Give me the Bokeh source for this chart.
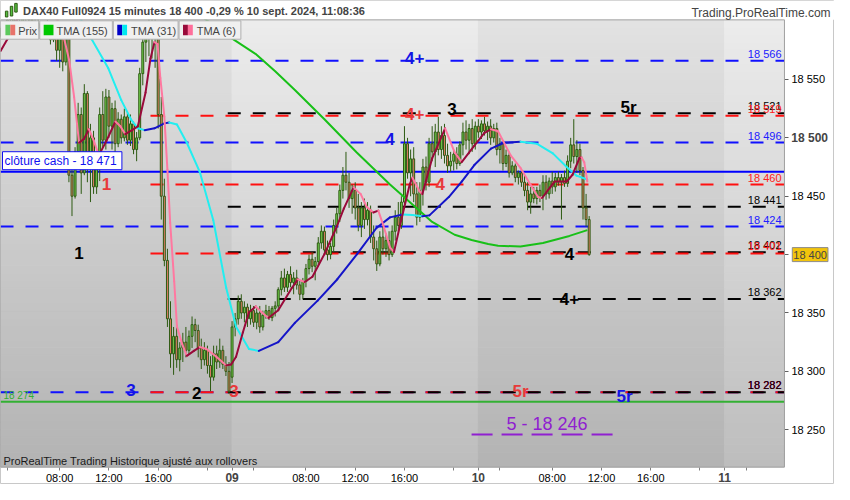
import numpy as np
from bokeh.plotting import figure
from bokeh.models import Range1d, FixedTicker, Label, BoxAnnotation, LinearAxis
from bokeh.core.properties import value
from bokeh.embed import file_html
from bokeh.resources import INLINE

# ---------------- data ----------------
# DAX40 Full0924, 15-minute bars, bar 0 = Fri 6 Sept 03:15 ... bar 191 = Tue 10 Sept 11:00
opens = [18587, 18594, 18597, 18601, 18603, 18600, 18596, 18599, 18604, 18606,
         18601, 18595, 18598, 18594, 18591, 18596, 18590, 18584, 18592, 18575,
         18586, 18565, 18590, 18468, 18450, 18488, 18520, 18470, 18538, 18475,
         18500, 18458, 18478, 18520, 18498, 18535, 18510, 18525, 18495, 18516,
         18500, 18518, 18498, 18512, 18490, 18500, 18555, 18582, 18590, 18585,
         18596, 18590, 18520, 18450, 18395, 18345, 18315, 18330, 18310, 18320,
         18325, 18318, 18330, 18340, 18335, 18320, 18310, 18318, 18305, 18295,
         18315, 18308, 18318, 18306, 18300, 18295, 18338, 18345, 18360, 18350,
         18355, 18345, 18352, 18342, 18350, 18338, 18348, 18352, 18346, 18354,
         18356, 18370, 18380, 18372, 18383, 18376, 18380, 18374, 18366, 18377,
         18388, 18396, 18390, 18394, 18410, 18420, 18404, 18400, 18407, 18425,
         18435, 18455, 18468, 18462, 18448, 18455, 18440, 18425, 18440, 18430,
         18438, 18415, 18405, 18392, 18415, 18405, 18412, 18400, 18420, 18432,
         18425, 18445, 18495, 18470, 18482, 18452, 18432, 18455, 18475, 18462,
         18495, 18488, 18505, 18490, 18502, 18485, 18476, 18480, 18486, 18478,
         18494, 18505, 18498, 18508, 18495, 18510, 18505, 18512, 18506, 18510,
         18500, 18508, 18490, 18495, 18478, 18485, 18470, 18476, 18466, 18470,
         18462, 18455, 18445, 18452, 18448, 18455, 18450, 18462, 18452, 18463,
         18458, 18466, 18462, 18466, 18461, 18480, 18494, 18484, 18490, 18472,
         18440, 18430]
highs = [18596, 18600, 18604, 18608, 18610, 18606, 18603, 18607, 18612, 18611,
         18605, 18602, 18604, 18600, 18598, 18601, 18596, 18595, 18597, 18590,
         18596, 18598, 18595, 18480, 18492, 18530, 18526, 18546, 18540, 18512,
         18506, 18482, 18526, 18540, 18542, 18541, 18530, 18532, 18522, 18520,
         18525, 18522, 18520, 18514, 18505, 18560, 18590, 18600, 18605, 18602,
         18605, 18598, 18535, 18465, 18405, 18360, 18338, 18340, 18325, 18333,
         18338, 18335, 18347, 18345, 18340, 18328, 18325, 18322, 18313, 18322,
         18322, 18328, 18322, 18313, 18308, 18343, 18350, 18365, 18366, 18360,
         18358, 18357, 18356, 18355, 18356, 18352, 18357, 18356, 18356, 18360,
         18372, 18386, 18388, 18386, 18390, 18385, 18387, 18378, 18380, 18392,
         18400, 18402, 18398, 18415, 18425, 18424, 18412, 18410, 18430, 18440,
         18460, 18475, 18488, 18470, 18460, 18462, 18452, 18445, 18448, 18445,
         18442, 18425, 18412, 18420, 18425, 18418, 18420, 18425, 18438, 18445,
         18450, 18510, 18500, 18490, 18492, 18462, 18462, 18482, 18484, 18500,
         18510, 18512, 18518, 18510, 18512, 18495, 18488, 18490, 18492, 18497,
         18513, 18515, 18512, 18516, 18514, 18516, 18515, 18518, 18514, 18516,
         18512, 18513, 18500, 18498, 18490, 18488, 18480, 18478, 18472, 18473,
         18468, 18462, 18458, 18458, 18458, 18460, 18468, 18468, 18466, 18471,
         18470, 18471, 18469, 18472, 18485, 18500, 18516, 18498, 18495, 18475,
         18452, 18433]
lows = [18586, 18590, 18593, 18596, 18598, 18594, 18591, 18595, 18600, 18598,
        18593, 18590, 18592, 18588, 18587, 18588, 18580, 18582, 18566, 18560,
        18557, 18562, 18462, 18433, 18448, 18482, 18452, 18468, 18462, 18445,
        18452, 18452, 18463, 18492, 18490, 18500, 18490, 18487, 18492, 18495,
        18497, 18494, 18493, 18486, 18480, 18498, 18545, 18565, 18570, 18568,
        18560, 18508, 18430, 18390, 18338, 18303, 18297, 18303, 18300, 18308,
        18312, 18314, 18320, 18325, 18312, 18302, 18305, 18298, 18283, 18292,
        18302, 18303, 18302, 18296, 18281, 18290, 18330, 18340, 18345, 18342,
        18338, 18340, 18338, 18336, 18333, 18335, 18345, 18344, 18343, 18347,
        18352, 18365, 18368, 18368, 18372, 18366, 18370, 18361, 18362, 18372,
        18383, 18385, 18378, 18390, 18405, 18400, 18395, 18396, 18402, 18418,
        18428, 18448, 18455, 18440, 18435, 18430, 18420, 18415, 18422, 18425,
        18410, 18395, 18386, 18390, 18400, 18398, 18395, 18398, 18412, 18420,
        18422, 18440, 18465, 18450, 18445, 18425, 18428, 18442, 18455, 18458,
        18480, 18475, 18485, 18482, 18478, 18470, 18471, 18472, 18473, 18476,
        18485, 18490, 18486, 18488, 18490, 18500, 18499, 18502, 18498, 18494,
        18496, 18485, 18478, 18472, 18475, 18466, 18468, 18462, 18460, 18458,
        18450, 18438, 18435, 18444, 18443, 18445, 18438, 18447, 18448, 18452,
        18454, 18459, 18430, 18458, 18458, 18474, 18478, 18470, 18468, 18430,
        18424, 18399]
closes = [18594, 18597, 18601, 18603, 18600, 18596, 18599, 18604, 18606, 18601,
          18595, 18598, 18594, 18591, 18596, 18590, 18584, 18592, 18575, 18586,
          18565, 18590, 18468, 18450, 18488, 18520, 18470, 18538, 18475, 18500,
          18458, 18478, 18520, 18498, 18535, 18510, 18525, 18495, 18516, 18500,
          18518, 18498, 18512, 18490, 18500, 18555, 18582, 18590, 18585, 18596,
          18590, 18520, 18450, 18395, 18345, 18315, 18330, 18310, 18320, 18325,
          18318, 18330, 18340, 18335, 18320, 18310, 18318, 18305, 18295, 18315,
          18308, 18318, 18306, 18300, 18283, 18338, 18345, 18360, 18350, 18355,
          18345, 18352, 18342, 18350, 18338, 18348, 18352, 18346, 18354, 18356,
          18370, 18380, 18372, 18383, 18376, 18380, 18374, 18366, 18377, 18388,
          18396, 18390, 18394, 18410, 18420, 18404, 18400, 18407, 18425, 18435,
          18455, 18468, 18462, 18448, 18455, 18440, 18425, 18440, 18430, 18438,
          18415, 18405, 18392, 18415, 18405, 18412, 18400, 18420, 18432, 18425,
          18445, 18495, 18470, 18482, 18452, 18432, 18455, 18475, 18462, 18495,
          18488, 18505, 18490, 18502, 18485, 18476, 18480, 18486, 18478, 18494,
          18505, 18498, 18508, 18495, 18510, 18505, 18512, 18506, 18510, 18500,
          18508, 18490, 18495, 18478, 18485, 18470, 18476, 18466, 18470, 18462,
          18455, 18445, 18452, 18448, 18455, 18450, 18462, 18452, 18463, 18458,
          18466, 18462, 18466, 18461, 18480, 18494, 18484, 18490, 18472, 18440,
          18430, 18400]

# moving averages (bar index, price)
tma155_x = [65.1, 75.3, 82.6, 89.0, 95.4, 105.0, 115.5, 126.3, 133.6, 140.0,
            147.3, 152.8, 158.2, 161.4, 168.7, 176.0, 184.6, 190.4]
tma155_y = [18604, 18584.5, 18572, 18557, 18541, 18516, 18487.5, 18460, 18443, 18428,
            18417, 18412.5, 18409, 18407.5, 18407, 18410, 18416, 18421]

tma31_x = [24.6, 29.4, 34.8, 39.0, 42.2, 44.4, 46.6, 49.8, 53.0, 54.6,
           57.1, 60.3, 64.5, 68.9, 73.1, 76.3, 80.5, 83.7, 90.0, 95.4,
           102.8, 109.2, 115.6, 121.9, 126.3, 130.4, 133.6, 136.8, 139.1, 145.4,
           149.6, 153.7, 159.1, 163.3, 168.7, 174.1, 179.2, 183.7, 186.9, 190.4]
tma31_y = [18607.7, 18584.5, 18559.6, 18532.3, 18515.7, 18508.2, 18506.6, 18508.2, 18512.4, 18513.2,
           18511.5, 18495.8, 18470.9, 18429.4, 18371.4, 18338.2, 18319.2, 18317.5, 18325.0, 18341.5,
           18360.6, 18378.9, 18400.4, 18422.8, 18431.9, 18434.4, 18434.0, 18432.8, 18433.6, 18449.3,
           18462.6, 18476.7, 18490.8, 18495.8, 18496.6, 18494.9, 18486.7, 18475.0, 18467.6, 18464.3]

tma6_x = [-0.2, 2.0, 3.6, 7.7, 14.1, 18.3, 20.5, 22.1, 23.7, 25.3,
          26.9, 28.5, 30.1, 31.7, 34.2, 37.1, 38.7, 40.3, 42.5, 44.4,
          46.9, 48.5, 49.8, 50.8, 51.7, 53.0, 54.0, 54.9, 56.2, 57.1,
          58.8, 60.3, 62.6, 64.5, 66.7, 69.9, 73.1, 74.7, 76.3, 78.5,
          80.5, 82.7, 84.6, 86.8, 90.0, 94.4, 96.4, 98.6, 101.1, 105.0,
          109.1, 111.3, 114.5, 116.8, 118.7, 120.9, 122.5, 124.1, 126.3, 127.6,
          129.5, 132.7, 133.6, 135.9, 136.8, 140.0, 144.2, 147.3, 149.6, 153.7,
          156.9, 159.1, 161.4, 165.5, 168.7, 171.9, 174.4, 175.7, 178.3, 179.8,
          183.7, 185.6, 187.8, 188.5, 189.4, 190.4]
tma6_y = [18574.5, 18584.5, 18596.9, 18607.7, 18609.4, 18601.1, 18584.5, 18566.3, 18534.8, 18495.8,
          18499.1, 18507.4, 18497.4, 18485.0, 18497.4, 18514.0, 18509.9, 18503.2, 18506.6, 18509.9,
          18538.9, 18568.0, 18582.0, 18580.4, 18551.3, 18518.2, 18472.6, 18427.0, 18377.2, 18338.2,
          18323.3, 18313.3, 18317.5, 18320.8, 18319.2, 18312.5, 18305.1, 18305.9, 18312.5, 18333.3,
          18350.7, 18355.6, 18350.7, 18345.7, 18352.3, 18371.4, 18378.8, 18376.5, 18381.0, 18400.4,
          18424.5, 18439.4, 18457.6, 18451.8, 18441.0, 18436.1, 18437.7, 18425.3, 18406.2, 18402.1,
          18424.5, 18460.1, 18465.9, 18454.3, 18451.8, 18482.5, 18508.2, 18487.5, 18479.2, 18493.3,
          18504.1, 18507.4, 18505.7, 18485.0, 18474.2, 18460.1, 18449.3, 18448.5, 18457.6, 18462.6,
          18462.6, 18468.4, 18482.5, 18483.3, 18479.2, 18462.6]

# horizontal levels
level_values = [18566, 18521, 18519, 18496, 18471, 18460, 18441, 18424,
                18402, 18401, 18362, 18282, 18282, 18282, 18274, 18246]
level_names = ["blue", "black", "red", "blue", "cash", "red", "black", "blue",
               "black", "red", "black", "blue", "red", "black", "green", "purple"]
cash_close = 18471
last_price = 18400
target_text = "5 - 18 246"

# level markers
marker_text = ["4+", "4+", "3", "5r", "4", "1", "4", "1", "4", "4+", "3", "2", "3", "5r", "5r"]
marker_kind = ["blue", "red", "black", "black", "blue", "red", "red", "black", "black",
               "black", "blue", "black", "red", "red", "blue"]
marker_bar = [134.3, 134.3, 146.4, 203.8, 126.3, 34.2, 142.6, 25.3, 184.6, 184.6,
              42.2, 63.5, 75.6, 168.7, 202.5]
marker_price = [18568.7, 18520.6, 18524.8, 18525.6, 18499.1, 18460.1, 18460.1, 18401.2,
                18400.4, 18362.3, 18284.3, 18281.8, 18283.5, 18282.7, 18278.5]

# axes
price_ticks = [18250, 18300, 18350, 18400, 18450, 18500, 18550]
time_ticks = [19, 35, 51, 99, 115, 131, 179, 195, 211]
time_labels = ["08:00", "12:00", "16:00", "08:00", "12:00", "16:00", "08:00", "12:00", "16:00"]
day_ticks = [75, 155, 235]
day_labels = ["09", "10", "11"]
minor_ticks = [2, 67, 82, 147, 162, 227, 242]
day_bounds = [-6, 75, 155, 235, 320]

# ---------------- layout helpers (reference pixels -> data / screen) ----------------
FONT = "Liberation Sans"
W, H = 834, 484
SX, SY = W / 850.0, H / 500.0

def K(px):          # reference x pixel -> bar index
    return (px - 0.7) / 3.1375

def P(py):          # reference y pixel -> price
    return 18400 + (262.5 - py) / 1.206

def sx(px):         # reference x pixel -> screen x
    return px * SX

def sy(py):         # reference y pixel -> screen y (from bottom)
    return (500 - py) * SY

def fmt(v):
    return "{:,}".format(int(v)).replace(",", " ")

CH_L, CH_R = K(0), K(799)
CH_B, CH_T = P(482), P(20)

LV = {
    "blue":   dict(color="#1010ff", dash="13 12", start=CH_L, end=CH_R, lab="#2020ff"),
    "black":  dict(color="#000000", dash="13 12", start=73.6, end=CH_R, lab="#000000"),
    "red":    dict(color="#ff1010", dash="13 12", start=48.5, end=CH_R, lab="#ff2020"),
    "cash":   dict(color="#0000ff", dash="solid", start=CH_L, end=CH_R, lab=None),
    "green":  dict(color="#33b033", dash="solid", start=CH_L, end=CH_R, lab="#30b030"),
    "purple": dict(color="#9020d0", dash="21 9", start=152.8, end=201.2, lab="#9020d0"),
}
MK = {"blue": "#1414e6", "red": "#e83a3a", "black": "#000000"}

p = figure(width=W, height=H, title=None,
           x_range=Range1d(K(0), K(850)), y_range=Range1d(P(500), P(0)),
           output_backend="svg", toolbar_location=None,
           x_axis_location=None, y_axis_location=None,
           min_border=0, background_fill_color="white", border_fill_color="white",
           outline_line_color="#c8c8c8")
p.grid.visible = False

# chart background: vertical gradient, alternating by day
nstrip = 60
edges = np.linspace(CH_B, CH_T, nstrip + 1)
ql, qr, qb, qt, qc = [], [], [], [], []
for d in range(len(day_bounds) - 1):
    light = d % 2 == 1
    top_g, bot_g = (236, 189) if light else (226, 179)
    left = max(day_bounds[d], CH_L)
    right = min(day_bounds[d + 1], CH_R)
    if right <= left:
        continue
    for i in range(nstrip):
        t = (0.5 * (edges[i] + edges[i + 1]) - CH_B) / (CH_T - CH_B)
        g = int(round(bot_g + t * (top_g - bot_g)))
        ql.append(left); qr.append(right)
        qb.append(edges[i]); qt.append(edges[i + 1])
        qc.append("#%02x%02x%02x" % (g, g, g))
p.quad(left=ql, right=qr, bottom=qb, top=qt, fill_color=qc, line_color=qc, line_width=1)

# levels
for v, name in zip(level_values, level_names):
    st = LV[name]
    p.segment(x0=[st["start"]], y0=[v], x1=[st["end"]], y1=[v], line_color=st["color"],
              line_width=2, line_dash=st["dash"])

# candles
idx = np.arange(len(opens))
o = np.array(opens); c = np.array(closes); hi = np.array(highs); lo = np.array(lows)
inc = c >= o
dec = ~inc
OUT = "#2d5a12"
p.segment(x0=idx, y0=hi, x1=idx, y1=lo, line_color=OUT, line_width=1)
p.vbar(x=idx[inc], width=0.62, top=c[inc], bottom=o[inc], fill_color="#74d44e",
       line_color=OUT, line_width=1)
p.vbar(x=idx[dec], width=0.62, top=o[dec], bottom=c[dec], fill_color="#ea7e69",
       line_color=OUT, line_width=1)

# moving averages, coloured by direction
def ma(xs, ys, up, down):
    x0, x1 = xs[:-1], xs[1:]
    y0, y1 = ys[:-1], ys[1:]
    cols = [up if b >= a else down for a, b in zip(y0, y1)]
    p.segment(x0=x0, y0=y0, x1=x1, y1=y1, line_color=cols, line_width=2, line_cap="round")

p.line(tma155_x, tma155_y, line_color="#18c018", line_width=2)
ma(tma31_x, tma31_y, "#1414c8", "#22eef0")
ma(tma6_x, tma6_y, "#990a3a", "#ff78a0")

# level labels on the right
rx, ry, rt, rc = [], [], [], []
for v, name in zip(level_values, level_names):
    st = LV[name]
    if name in ("cash", "green", "purple"):
        continue
    rx.append(K(796)); ry.append(v); rt.append(fmt(v)); rc.append(st["lab"])
p.text(x=rx, y=ry, text=rt, text_color=rc, text_font=value(FONT), text_font_size="11px",
       text_align="right", text_baseline="bottom", y_offset=-1)
p.text(x=[K(3)], y=[18274], text=[fmt(18274)], text_color=[LV["green"]["lab"]],
       text_font=value(FONT), text_font_size="10px", text_align="left",
       text_baseline="bottom", y_offset=-1)

# target
p.text(x=[K(557)], y=[P(437)], text=[target_text], text_color="#9020d0",
       text_font=value(FONT), text_font_size="18px", text_align="center",
       text_baseline="middle")

# markers
p.text(x=marker_bar, y=marker_price, text=marker_text, text_color=[MK[k] for k in marker_kind],
       text_font=value(FONT), text_font_size="17px", text_font_style="bold",
       text_align="center", text_baseline="middle")

# header band (masks anything above the chart area)
p.add_layout(BoxAnnotation(left=K(0), right=K(850), bottom=CH_T, top=P(0),
                           fill_color="white", fill_alpha=1, line_color=None))
# chart border
p.add_layout(BoxAnnotation(left=CH_L, right=CH_R, bottom=CH_B, top=CH_T,
                           fill_alpha=0, line_color="#a0a0a0", line_alpha=1, line_width=1))

# axes drawn at the chart edges
ya = LinearAxis(fixed_location=CH_R)
ya.ticker = FixedTicker(ticks=price_ticks)
ya.major_label_overrides = {t: ("" if t in (18500, last_price) else fmt(t)) for t in price_ticks}
ya.axis_line_color = None
ya.major_tick_in = 0
ya.major_tick_out = 4
ya.major_tick_line_color = "#606060"
ya.minor_tick_line_color = None
ya.major_label_standoff = 3
ya.major_label_text_font = FONT
ya.major_label_text_font_size = "11px"
ya.major_label_text_color = "#000000"
p.add_layout(ya, "right")

xa = LinearAxis(fixed_location=CH_B)
xa.ticker = FixedTicker(ticks=time_ticks + day_ticks, minor_ticks=minor_ticks)
ov = {t: l for t, l in zip(time_ticks, time_labels)}
ov.update({t: "" for t in day_ticks})
xa.major_label_overrides = ov
xa.axis_line_color = None
xa.major_tick_in = 0
xa.major_tick_out = 3
xa.minor_tick_in = 0
xa.minor_tick_out = 3
xa.major_tick_line_color = "#808080"
xa.minor_tick_line_color = "#808080"
xa.major_label_standoff = 2
xa.major_label_text_font = FONT
xa.major_label_text_font_size = "11px"
xa.major_label_text_color = "#000000"
p.add_layout(xa, "below")

for t, l in zip(day_ticks, day_labels):
    p.add_layout(Label(x=t, y=sy(493), x_units="data", y_units="screen", text=l,
                       text_font=FONT, text_font_size="12px", text_font_style="bold",
                       text_align="center", text_baseline="middle"))

p.add_layout(Label(x=sx(806), y=18500, x_units="screen", y_units="data", text=fmt(18500),
                   text_font=FONT, text_font_size="12px", text_font_style="bold",
                   text_baseline="middle"))
p.add_layout(Label(x=sx(807), y=last_price, x_units="screen", y_units="data", text=fmt(last_price),
                   text_font=FONT, text_font_size="11px", text_baseline="middle",
                   background_fill_color="#f2c40c", border_line_color="#8c8c8c",
                   padding=1))

# closing cash box
p.add_layout(Label(x=2, y=cash_close, x_units="screen", y_units="data",
                   text="clôture cash -  " + fmt(cash_close), text_color="#1010f0",
                   text_font=FONT, text_font_size="12px", text_baseline="bottom",
                   y_offset=2, background_fill_color="white", border_line_color="#1010f0",
                   padding=2))

# header
p.add_layout(Label(x=sx(23), y=sy(11), x_units="screen", y_units="screen",
                   text="DAX40 Full0924 15 minutes 18 400 -0,29 % 10 sept. 2024, 11:08:36",
                   text_font=FONT, text_font_size="11px", text_font_style="bold",
                   text_baseline="middle"))
p.add_layout(Label(x=sx(846), y=sy(13), x_units="screen", y_units="screen",
                   text="Trading.ProRealTime.com", text_font=FONT, text_font_size="12px",
                   text_align="right", text_baseline="middle"))
for l, r, b, t in [(5, 7.5, 17, 11), (10, 12.5, 16, 6), (14.5, 17, 12, 3)]:
    p.add_layout(BoxAnnotation(left=sx(l), right=sx(r), bottom=sy(b), top=sy(t),
                               left_units="screen", right_units="screen",
                               bottom_units="screen", top_units="screen",
                               fill_color="#55c040", fill_alpha=1,
                               line_color="#2d5a12", line_alpha=1, line_width=1))

# legend boxes
boxes = [(0, 39), (40, 114), (115, 181), (182, 245)]
for l, r in boxes:
    p.add_layout(BoxAnnotation(left=sx(l), right=sx(r), bottom=sy(40), top=sy(21),
                               left_units="screen", right_units="screen",
                               bottom_units="screen", top_units="screen",
                               fill_color="#f0f0f0", fill_alpha=1,
                               line_color="#b0b0b0", line_alpha=1, line_width=1))
swatches = [(5, 10, "#5cc95c"), (10, 15, "#e8736a"), (44, 54, "#00c800"),
            (119, 124, "#0000c8"), (124, 129, "#00e8f0"),
            (186, 191, "#990a3a"), (191, 196, "#ff6e9a")]
for l, r, col in swatches:
    p.add_layout(BoxAnnotation(left=sx(l), right=sx(r), bottom=sy(36), top=sy(25),
                               left_units="screen", right_units="screen",
                               bottom_units="screen", top_units="screen",
                               fill_color=col, fill_alpha=1, line_color=None))
for xpos, txt in [(18, "Prix"), (57, "TMA (155)"), (133, "TMA (31)"), (200, "TMA (6)")]:
    p.add_layout(Label(x=sx(xpos), y=sy(31), x_units="screen", y_units="screen", text=txt,
                       text_font=FONT, text_font_size="11px", text_baseline="middle"))

# footer note
p.add_layout(Label(x=sx(3), y=sy(476), x_units="screen", y_units="screen",
                   text="ProRealTime Trading  Historique ajusté aux rollovers",
                   text_font=FONT, text_font_size="11px", text_color="#1a1a1a",
                   text_baseline="middle"))

open("out.html", "w").write(file_html(p, INLINE))
